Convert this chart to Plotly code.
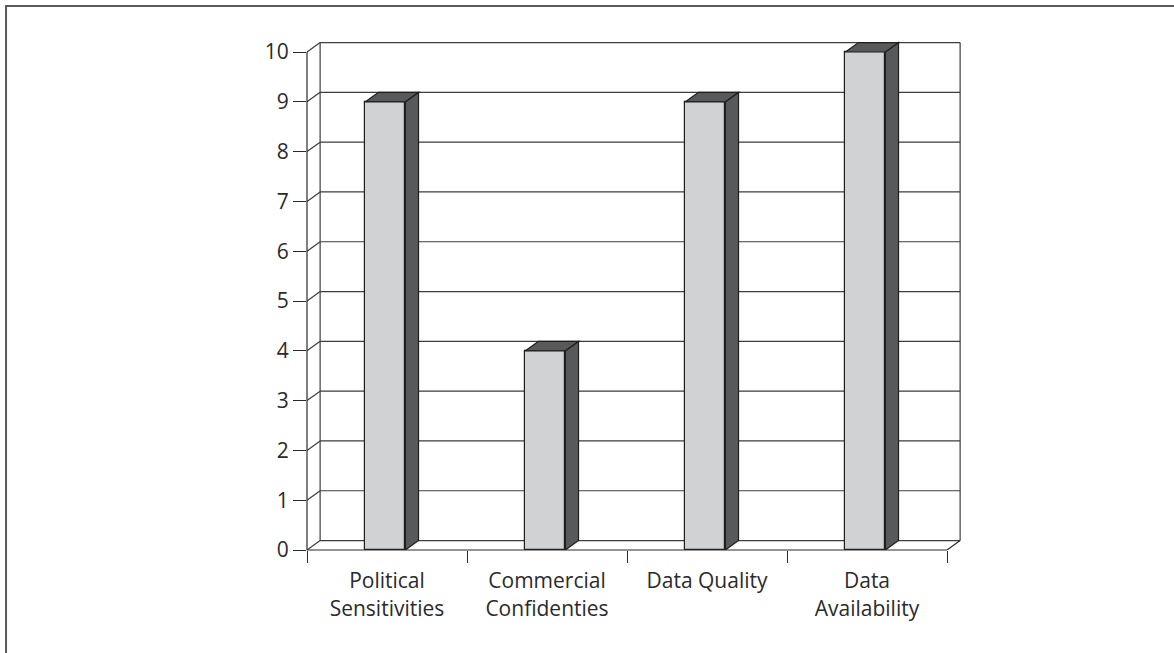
import plotly.graph_objects as go

# Survey scores per issue
categories = ["Political<br>Sensitivities", "Commercial<br>Confidenties", "Data Quality", "Data<br>Availability"]
scores = [9, 4, 9, 10]
y_ticks = list(range(0, 11))

# Pseudo-3D styling
bar_width = 0.25
bar_offset = -0.135
depth_x = 0.082    # category units
depth_y = 0.19     # value units
face_color = "#d1d2d4"
side_color = "#58595b"
edge_color = "#1e1e1e"
grid_color = "#3c3c3c"
text_color = "#2b2b2b"

positions = list(range(len(categories)))
x_lo, x_hi = -0.5, len(categories) - 0.5
y_top = max(y_ticks)

fig = go.Figure()
fig.add_trace(go.Bar(
    x=positions, y=scores, width=bar_width, offset=bar_offset,
    marker=dict(color=face_color, line=dict(color=edge_color, width=1.2)),
    hoverinfo="skip", showlegend=False,
))

shapes = []

def seg(x0, y0, x1, y1, xref="x", yref="y", layer="below", color=grid_color, width=1.2):
    shapes.append(dict(type="line", xref=xref, yref=yref, x0=x0, y0=y0, x1=x1, y1=y1,
                       layer=layer, line=dict(color=color, width=width)))

# back wall gridlines and side wall diagonals
for v in y_ticks:
    seg(x_lo + depth_x, v + depth_y, x_hi + depth_x, v + depth_y)
    seg(x_lo, v, x_lo + depth_x, v + depth_y)
# back wall verticals
seg(x_lo + depth_x, depth_y, x_lo + depth_x, y_top + depth_y)
seg(x_hi + depth_x, depth_y, x_hi + depth_x, y_top + depth_y)
# front value axis and front floor edge
seg(0, 0, 0, y_top, xref="x domain", yref="y", layer="above", color="#2a2a2a")
seg(x_lo, 0, x_hi, 0, xref="x", yref="y domain", layer="above", color="#2a2a2a")
seg(x_hi, 0, x_hi + depth_x, depth_y, layer="above", color="#2a2a2a")

# side and top faces of each bar
for p, s in zip(positions, scores):
    x0 = p + bar_offset
    x1 = x0 + bar_width
    side = (f"M {x1} 0 L {x1 + depth_x} {depth_y} L {x1 + depth_x} {s + depth_y} "
            f"L {x1} {s} Z")
    top = (f"M {x0} {s} L {x0 + depth_x} {s + depth_y} L {x1 + depth_x} {s + depth_y} "
           f"L {x1} {s} Z")
    for path in (side, top):
        shapes.append(dict(type="path", xref="x", yref="y", path=path, layer="above",
                           fillcolor=side_color, line=dict(color=edge_color, width=1.2)))

# outer frame
shapes.append(dict(type="rect", xref="paper", yref="paper",
                   x0=-0.4595, y0=1.0667, x1=2.0, y1=-0.5,
                   line=dict(color="#5a5a5a", width=2), layer="above"))

fig.update_layout(
    width=1174, height=653,
    margin=dict(l=307, r=212, t=40, b=103),
    paper_bgcolor="white", plot_bgcolor="white",
    font=dict(family="Open Sans", size=21, color=text_color),
    shapes=shapes,
    bargap=0,
    xaxis=dict(
        range=[x_lo, x_hi + 0.09375], tickmode="array", tickvals=positions, ticktext=categories,
        ticks="outside", ticklen=12, tickcolor="rgba(0,0,0,0)",
        showgrid=False, zeroline=False, showline=False,
        minor=dict(tickmode="array", tickvals=[x_lo + k for k in range(len(categories) + 1)],
                   ticks="outside", ticklen=12, tickwidth=1.2, tickcolor="#2a2a2a", showgrid=False),
        fixedrange=True,
    ),
    yaxis=dict(
        range=[0, 10.241], tickmode="array", tickvals=y_ticks,
        ticks="outside", ticklen=13, tickwidth=1.2, tickcolor="#2a2a2a",
        showgrid=False, zeroline=False, showline=False, fixedrange=True,
    ),
)

fig.write_html("out.html")
